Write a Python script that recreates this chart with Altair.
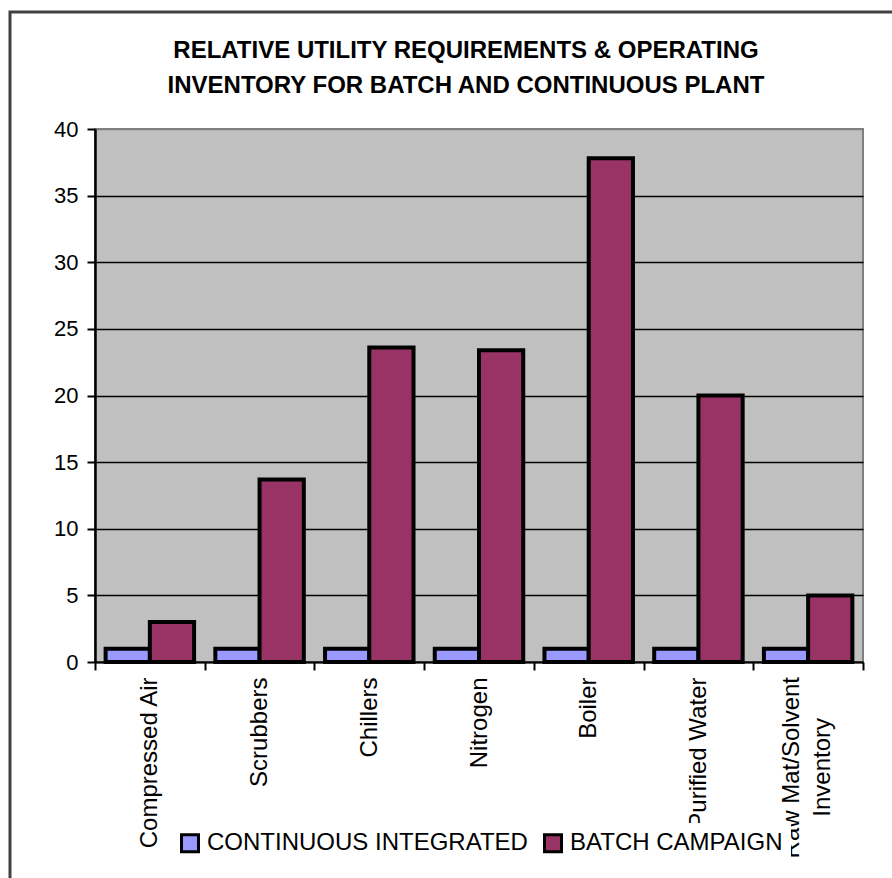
import altair as alt
import pandas as pd

# Utility categories (a "\n" marks a line break in the axis label)
categories = [
    "Compressed Air",
    "Scrubbers",
    "Chillers",
    "Nitrogen",
    "Boiler",
    "Purified Water",
    "Raw Mat/Solvent\nInventory",
]
series = ["CONTINUOUS INTEGRATED", "BATCH CAMPAIGN"]
continuous_values = [1, 1, 1, 1, 1, 1, 1]
batch_values = [3.0, 13.7, 23.6, 23.4, 37.8, 20.0, 5.0]
y_ticks = [0, 5, 10, 15, 20, 25, 30, 35, 40]
series_colors = ["#9999FF", "#993366"]
title_lines = [
    "RELATIVE UTILITY REQUIREMENTS & OPERATING",
    "INVENTORY FOR BATCH AND CONTINUOUS PLANT",
]

FONT = "Liberation Sans"
W, H = 768, 533

rows = []
for cat, c_val, b_val in zip(categories, continuous_values, batch_values):
    rows.append({"category": cat, "series": series[0], "value": c_val})
    rows.append({"category": cat, "series": series[1], "value": b_val})
df = pd.DataFrame(rows)

# Two-line category labels are drawn as separate text marks, one per line
two_line = pd.DataFrame(
    [
        {"category": c, "line1": c.split("\n")[0], "line2": c.split("\n")[1]}
        for c in categories
        if "\n" in c
    ]
)

x_enc = alt.X(
    "category:N",
    sort=categories,
    title=None,
    scale=alt.Scale(paddingInner=0, paddingOuter=0),
    axis=alt.Axis(
        labelAngle=270,
        labelFont=FONT,
        labelFontSize=24,
        labelColor="black",
        labelAlign="right",
        labelBaseline="middle",
        labelPadding=7,
        labelExpr="indexof(datum.label, '\\n') >= 0 ? '' : datum.label",
        labelLimit=400,
        labelOverlap=False,
        tickBand="extent",
        tickSize=8,
        tickWidth=2,
        tickColor="black",
        domainColor="black",
        domainWidth=2,
        grid=False,
    ),
)

bars = alt.Chart(df).mark_bar(stroke="black", strokeWidth=4).encode(
    x=x_enc,
    xOffset=alt.XOffset(
        "series:N",
        sort=series,
        scale=alt.Scale(paddingInner=0, paddingOuter=0.24),
    ),
    y=alt.Y(
        "value:Q",
        title=None,
        scale=alt.Scale(domain=[0, 40], nice=False),
        axis=alt.Axis(
            values=y_ticks,
            labelFont=FONT,
            labelFontSize=22,
            labelColor="black",
            labelPadding=9,
            tickSize=8,
            tickWidth=2,
            tickColor="black",
            domainColor="black",
            domainWidth=2.5,
            grid=True,
            gridColor={"condition": {"test": "datum.value >= 40", "value": "#808080"}, "value": "black"},
            gridWidth=1.5,
        ),
    ),
    color=alt.Color(
        "series:N",
        sort=series,
        scale=alt.Scale(domain=series, range=series_colors),
        legend=alt.Legend(
            title=None,
            orient="none",
            direction="horizontal",
            legendX=75,
            legendY=694,
            fillColor="white",
            padding=8,
            symbolType="square",
            symbolSize=289,
            symbolStrokeColor="black",
            symbolStrokeWidth=3,
            symbolOpacity=1,
            labelFont=FONT,
            labelFontSize=24,
            labelColor="black",
            labelOffset=5,
            columnPadding=10,
            labelLimit=400,
        ),
    ),
)

label_style = dict(
    angle=270, align="right", baseline="middle", font=FONT, fontSize=24, color="black"
)
x_plain = alt.X("category:N", sort=categories)

# First and second lines of a two-line category label (second line centred)
label_line1 = alt.Chart(two_line).mark_text(dy=-16, **label_style).encode(
    x=x_plain, y=alt.value(H + 15), text="line1:N"
)
label_line2 = alt.Chart(two_line).mark_text(dy=15, **label_style).encode(
    x=x_plain, y=alt.value(H + 56), text="line2:N"
)

one_row = pd.DataFrame({"k": [0]})

# Outer chart frame
frame = alt.Chart(one_row).mark_rect(
    fillOpacity=0, stroke="#404040", strokeWidth=3
).encode(
    x=alt.value(-85), x2=alt.value(900), y=alt.value(-117), y2=alt.value(900)
)

# Two-line bold heading
heading = alt.Chart(one_row).mark_text(
    font=FONT,
    fontSize=24,
    fontWeight="bold",
    color="black",
    align="center",
    baseline="alphabetic",
    lineHeight=35,
).encode(x=alt.value(371), y=alt.value(-71), text=alt.value(title_lines))

chart = (
    alt.layer(frame, bars, label_line1, label_line2, heading)
    .properties(
        width=W,
        height=H,
        padding={"left": 95, "top": 129, "right": 29, "bottom": 216},
        autosize=alt.AutoSizeParams(type="none"),
        background="white",
    )
    .configure_view(fill="#C0C0C0", stroke="#808080", strokeWidth=2)
)

chart.save("out.html", embed_options={"renderer": "svg", "actions": False})
